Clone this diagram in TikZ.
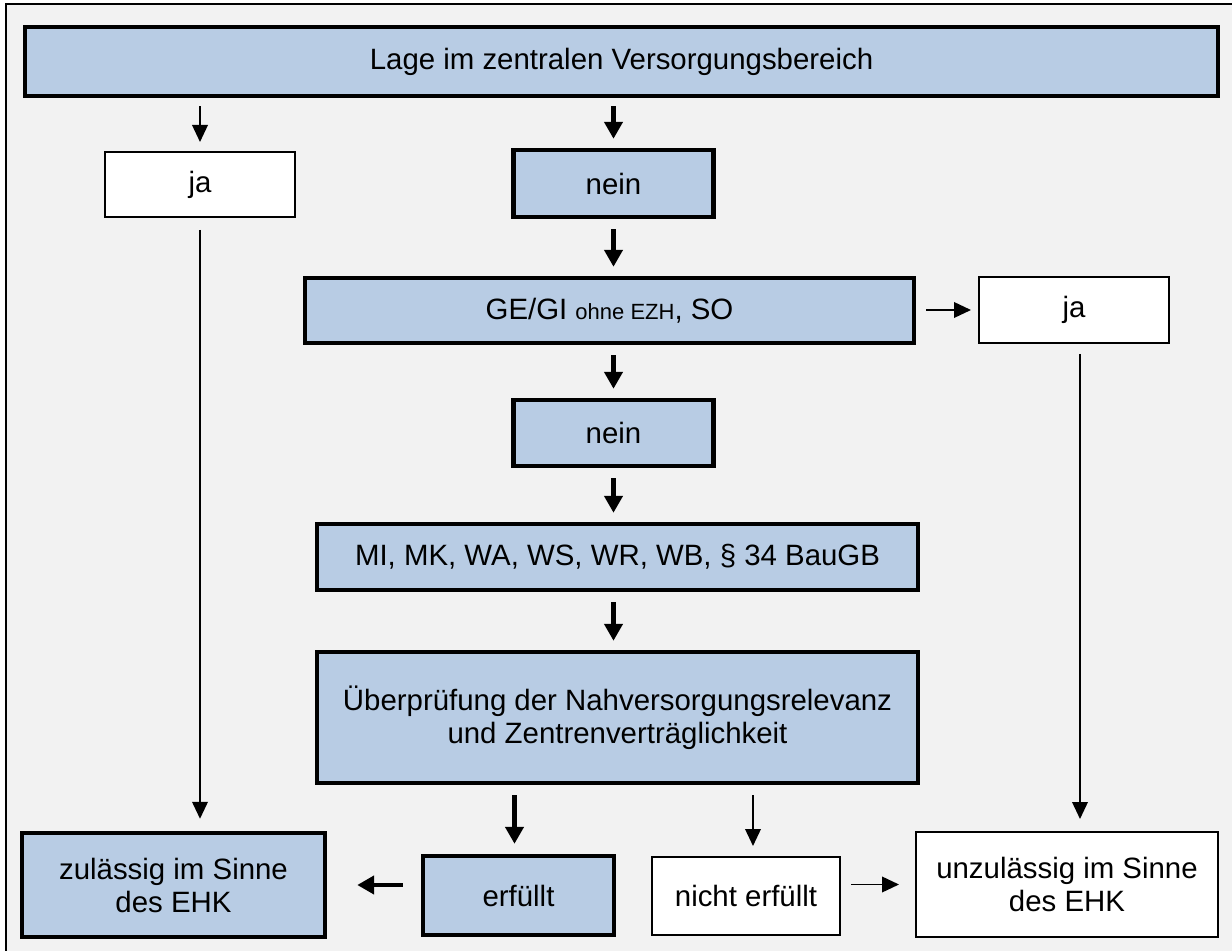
\documentclass[tikz,border=0pt]{standalone}
\usepackage{fontspec}
\setmainfont{Liberation Sans}
\usetikzlibrary{arrows.meta}
\definecolor{boxblue}{HTML}{B8CCE4}
\definecolor{bggray}{HTML}{F2F2F2}
\begin{document}
\begin{tikzpicture}[x=0.5pt,y=-0.5pt,
 base/.style={draw=black, inner sep=0pt, align=center, font=\fontsize{14.7}{16.5}\selectfont, text=black},
 bluebox/.style={base, fill=boxblue, line width=2.2pt},
 whitebox/.style={base, fill=white, line width=1pt},
 thinarrow/.style={line width=0.9pt, -{Triangle[length=8.5pt,width=7.8pt]}},
 thickarrow/.style={line width=2.4pt, -{Triangle[length=8.5pt,width=9pt]}},
]
\useasboundingbox (0,0) rectangle (1232,951);
\fill[white] (0,0) rectangle (1232,951);
\fill[bggray] (6,4) rectangle (1232,951);
\draw[line width=0.9pt] (6,951) -- (6,4) -- (1232,4);

\node[bluebox, minimum width=596.5pt, minimum height=34.5pt] (top) at (621.5,61.5) {Lage im zentralen Versorgungsbereich};
\node[whitebox, minimum width=95pt, minimum height=32.5pt] (jaL) at (200,184.5) {ja};
\node[bluebox, minimum width=100pt, minimum height=33.5pt] (nein1) at (613.5,183.5) {nein};
\node[bluebox, minimum width=304.5pt, minimum height=32.5pt] (GE) at (609.5,310.5) {GE/GI {\fontsize{11}{13}\selectfont ohne EZH}, SO};
\node[whitebox, minimum width=95pt, minimum height=33pt] (jaR) at (1074,310) {ja};
\node[bluebox, minimum width=100pt, minimum height=33pt] (nein2) at (613.5,433) {nein};
\node[bluebox, minimum width=300.5pt, minimum height=33pt] (MI) at (617.5,557) {MI, MK, WA, WS, WR, WB, § 34 BauGB};
\node[bluebox, minimum width=300.5pt, minimum height=65.5pt] (Ueb) at (617.5,717.5) {Überprüfung der Nahversorgungsrelevanz\\und Zentrenverträglichkeit};
\node[bluebox, minimum width=151.5pt, minimum height=52pt] (zul) at (173.5,885) {zulässig im Sinne\\des EHK};
\node[bluebox, minimum width=95.5pt, minimum height=39.5pt] (erf) at (518.5,895.5) {erfüllt};
\node[whitebox, minimum width=94pt, minimum height=39pt] (nerf) at (746,896) {nicht erfüllt};
\node[whitebox, minimum width=151pt, minimum height=52.5pt] (unz) at (1067,884.5) {unzulässig im Sinne\\des EHK};

\coordinate (rx) at ([xshift=3pt]jaR.south);
\coordinate (ex) at ([xshift=-2pt]erf.north);
\coordinate (nx) at ([xshift=3.5pt]nerf.north);

\draw[thinarrow] ([yshift=-4pt]top.south -| jaL.north) -- ([yshift=4.5pt]jaL.north);
\draw[thickarrow] ([yshift=-4pt]top.south -| nein1.north) -- ([yshift=4.5pt]nein1.north);
\draw[thickarrow] ([yshift=-5pt]nein1.south) -- ([yshift=4.5pt]GE.north -| nein1.south);
\draw[thinarrow] ([xshift=5pt]GE.east |- jaR.west) -- ([xshift=-3.5pt]jaR.west);
\draw[thickarrow] ([yshift=-5pt]GE.south -| nein1.south) -- ([yshift=4.5pt]nein2.north);
\draw[thickarrow] ([yshift=-5pt]nein2.south) -- ([yshift=4.5pt]MI.north -| nein2.south);
\draw[thickarrow] ([yshift=-5pt]MI.south -| nein2.south) -- ([yshift=4.5pt]Ueb.north -| nein2.south);
\draw[thickarrow] ([yshift=-5pt]Ueb.south -| ex) -- ([yshift=5pt]ex);
\draw[thinarrow] ([yshift=-5pt]Ueb.south -| nx) -- ([yshift=5pt]nx);
\draw[thinarrow] ([yshift=-6pt]jaL.south) -- ([yshift=6pt]zul.north -| jaL.south);
\draw[thinarrow] ([yshift=-5pt]rx) -- ([yshift=6pt]unz.north -| rx);
\draw[thickarrow] ([xshift=-9pt]erf.west |- zul.east) -- ([xshift=15pt]zul.east);
\draw[thinarrow] ([xshift=5pt]nerf.east |- unz.west) -- ([xshift=-8pt]unz.west);
\end{tikzpicture}
\end{document}
